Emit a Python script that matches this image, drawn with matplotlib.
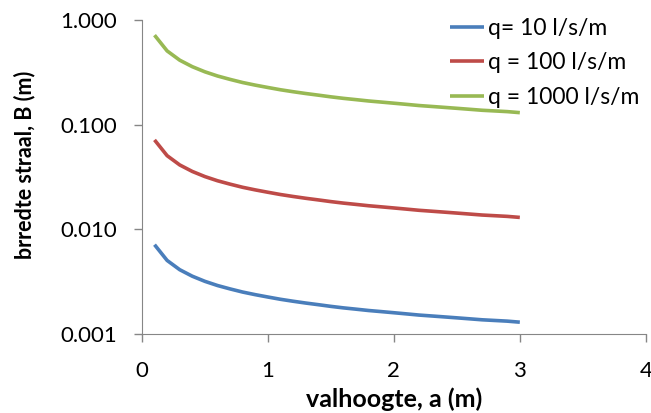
import matplotlib.pyplot as plt

# valhoogte a (m)
a_vals = [0.1, 0.2, 0.3, 0.4, 0.5, 0.6, 0.7, 0.8, 0.9, 1.0,
          1.1, 1.2, 1.3, 1.4, 1.5, 1.6, 1.7, 1.8, 1.9, 2.0,
          2.1, 2.2, 2.3, 2.4, 2.5, 2.6, 2.7, 2.8, 2.9, 3.0]

# breedte straal B (m)
b_q10 = [0.00714, 0.00505, 0.00412, 0.00357, 0.00319, 0.00291, 0.00270, 0.00252, 0.00238, 0.00226,
         0.00215, 0.00206, 0.00198, 0.00191, 0.00184, 0.00178, 0.00173, 0.00168, 0.00164, 0.00160,
         0.00156, 0.00152, 0.00149, 0.00146, 0.00143, 0.00140, 0.00137, 0.00135, 0.00133, 0.00130]
b_q100 = [0.0714, 0.0505, 0.0412, 0.0357, 0.0319, 0.0291, 0.0270, 0.0252, 0.0238, 0.0226,
          0.0215, 0.0206, 0.0198, 0.0191, 0.0184, 0.0178, 0.0173, 0.0168, 0.0164, 0.0160,
          0.0156, 0.0152, 0.0149, 0.0146, 0.0143, 0.0140, 0.0137, 0.0135, 0.0133, 0.0130]
b_q1000 = [0.714, 0.505, 0.412, 0.357, 0.319, 0.291, 0.270, 0.252, 0.238, 0.226,
           0.215, 0.206, 0.198, 0.191, 0.184, 0.178, 0.173, 0.168, 0.164, 0.160,
           0.156, 0.152, 0.149, 0.146, 0.143, 0.140, 0.137, 0.135, 0.133, 0.130]

labels = ["q= 10 l/s/m", "q = 100 l/s/m", "q = 1000 l/s/m"]
colors = ["#4A7EBB", "#BE4B48", "#98B954"]

plt.rcParams['font.family'] = ['Lato', 'DejaVu Sans']

fig = plt.figure(figsize=(6.51, 4.13), dpi=100)
ax = fig.add_axes([0.218, 0.191, 0.774, 0.761])

for ys, lab, col in zip([b_q10, b_q100, b_q1000], labels, colors):
    ax.plot(a_vals, ys, color=col, linewidth=2.6, label=lab,
            solid_joinstyle='round', solid_capstyle='butt')

ax.set_yscale('log')
ax.set_xlim(0, 4)
ax.set_ylim(0.001, 1)
ax.set_xticks([0, 1, 2, 3, 4])
ax.set_yticks([0.001, 0.01, 0.1, 1])
ax.set_yticklabels(["0.001", "0.010", "0.100", "1.000"])
ax.minorticks_off()
ax.tick_params(axis='x', labelsize=16, color='#868686', length=6, width=1, pad=13)
ax.tick_params(axis='y', labelsize=16, color='#868686', length=6, width=1, pad=12)

for s in ['top', 'right']:
    ax.spines[s].set_visible(False)
for s in ['left', 'bottom']:
    ax.spines[s].set_color('#868686')

ax.set_xlabel('valhoogte, a (m)', fontsize=18, fontweight='bold', labelpad=5)
ax.set_ylabel('brredte straal, B (m)', fontsize=15.5, fontweight='bold')
ax.yaxis.set_label_coords(-0.212, 0.538)

leg = ax.legend(loc='upper left', bbox_to_anchor=(0.593, 1.036), frameon=False,
                fontsize=16.5, handlelength=1.5, handletextpad=0.17, labelspacing=0.59,
                borderaxespad=0)

fig.savefig('out.png', dpi=100)
